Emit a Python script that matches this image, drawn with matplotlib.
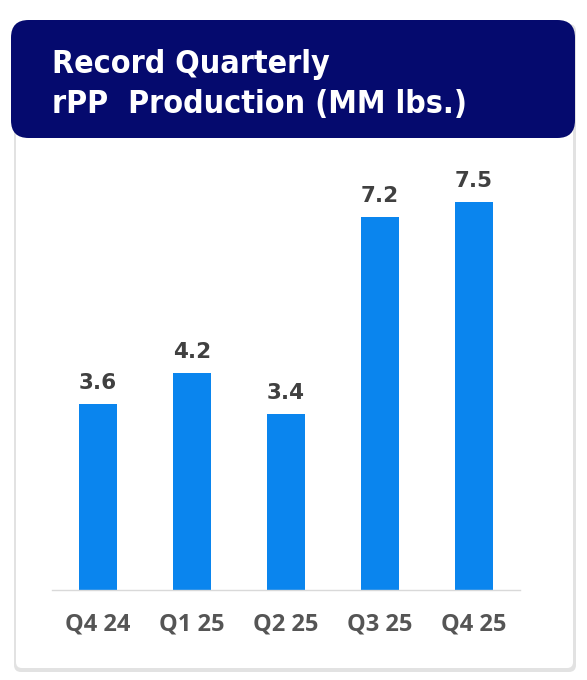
import matplotlib.pyplot as plt
from matplotlib.patches import FancyBboxPatch

quarters = ['Q4 24', 'Q1 25', 'Q2 25', 'Q3 25', 'Q4 25']
production = [3.6, 4.2, 3.4, 7.2, 7.5]
value_labels = ['3.6', '4.2', '3.4', '7.2', '7.5']
title_lines = ['Record Quarterly', 'rPP  Production (MM lbs.)']

W, H = 587, 680
fig = plt.figure(figsize=(W / 100, H / 100), dpi=100)
fig.patch.set_facecolor('white')


def fx(px):
    return px / W


def fy(py):
    return 1 - py / H


def add_box(x0, y0, x1, y1, color, rounding, z):
    # pixel box (top-left origin) -> rounded patch in figure coords
    box = FancyBboxPatch((fx(x0), fy(y1)), fx(x1 - x0), fy(y0) - fy(y1),
                         boxstyle=f'round,pad=0,rounding_size={rounding}',
                         transform=fig.transFigure, facecolor=color,
                         edgecolor='none', zorder=z, mutation_aspect=W / H)
    fig.patches.append(box)


# card with soft gray shadow
add_box(14, 24, 576, 672, '#e2e2e2', 0.012, 0)
add_box(16, 24, 573, 668, 'white', 0.01, 1)

# header
add_box(11, 20, 575, 138, '#050a6e', 0.03, 2)
for line, ypx in zip(title_lines, [64, 105]):
    fig.text(fx(52), fy(ypx), line, color='white', fontsize=23,
             fontweight='bold', fontstretch='condensed', va='center',
             ha='left', family='DejaVu Sans', zorder=3)

# bars
ax = fig.add_axes([fx(52), fy(590), fx(468), fy(176) - fy(590)])
ax.set_facecolor('none')
ax.set_zorder(4)
x = range(len(quarters))
bars = ax.bar(x, production, width=0.40, color='#0a85ee')
for b, lab in zip(bars, value_labels):
    ax.annotate(lab, (b.get_x() + b.get_width() / 2, b.get_height()),
                xytext=(0, 8), textcoords='offset points', ha='center',
                va='bottom', fontsize=15.5, fontweight='bold', color='#404040',
                family='DejaVu Sans')
ax.set_xlim(-0.49, 4.49)
ax.set_ylim(0, 8)
ax.set_xticks(list(x))
ax.set_xticklabels(quarters, fontsize=17, fontweight='bold', color='#555555',
                   family='Open Sans')
ax.tick_params(axis='x', length=0, pad=16)
ax.set_yticks([])
for s in ['top', 'right', 'left']:
    ax.spines[s].set_visible(False)
ax.spines['bottom'].set_color('#d9d9d9')
ax.spines['bottom'].set_linewidth(1)

fig.savefig('out.png', dpi=100)
